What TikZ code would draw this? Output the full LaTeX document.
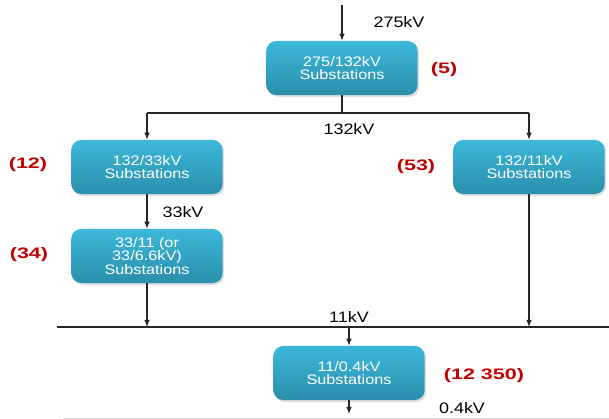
\documentclass[tikz,border=0pt]{standalone}
\usepackage{fontspec}
\setmainfont{Liberation Sans}[FakeStretch=1.18]
\newfontfamily\countfont{Liberation Sans}[FakeStretch=1.42]
\usepackage{xcolor}
\usetikzlibrary{arrows.meta, shadows}

\definecolor{boxtop}{HTML}{3CB8DA}
\definecolor{boxbot}{HTML}{2A8FAA}
\definecolor{numred}{HTML}{C00000}

\tikzset{
  substation/.style={rectangle, rounded corners=7pt, top color=boxtop, bottom color=boxbot,
    minimum width=3.78cm, minimum height=1.35cm, align=center, text=white,
    font=\fontsize{9.8}{9.8}\selectfont, drop shadow={opacity=0.25, shadow xshift=0.04cm, shadow yshift=-0.05cm}},
  count/.style={text=numred, font=\countfont\bfseries\fontsize{10.8}{12}\selectfont},
  volt/.style={font=\fontsize{10.8}{12}\selectfont},
  feed/.style={-{Latex[length=5pt,width=4pt]}, thick, black!85}
}

\begin{document}
\begin{tikzpicture}[x=0.025cm, y=-0.025cm]

\useasboundingbox (0,0) rectangle (609,419);

% substations
\node[substation] (s275) at (342,68) {275/132kV\\Substations};
\node[substation] (s33)  at (147,167) {132/33kV\\Substations};
\node[substation] (s11)  at (529,167) {132/11kV\\Substations};
\node[substation] (s6)   at (147,256) {33/11 (or\\33/6.6kV)\\Substations};
\node[substation] (s04)  at (349,373) {11/0.4kV\\Substations};

% numbers of substations
\node[count] (n5)   at (444,70)  {(5)};
\node[count] (n12)  at (28,165)  {(12)};
\node[count] (n53)  at (416,167) {(53)};
\node[count] (n34)  at (29,255)  {(34)};
\node[count] (n350) at (484,376) {(12 350)};

% voltages
\node[volt] (v275) at (399,22)  {275kV};
\node[volt] (v132) at (349,129) {132kV};
\node[volt] (v33)  at (183,212) {33kV};
\node[volt] (v11)  at (349,317) {11kV};
\node[volt] (v04)  at (462,408) {0.4kV};

\coordinate (in)  at (342,5);
\coordinate (sp)  at (342,113);
\coordinate (spl) at (147,113);
\coordinate (spr) at (529,113);
\coordinate (busl) at (57,327);
\coordinate (busr) at (609,327);
\coordinate (out) at (349,414);

% feeders
\draw[feed] (in) -- (s275.north);
\draw[thick, black!85] (s275.south) -- (sp);
\draw[thick, black!85] (spl) -- (spr);
\draw[feed] (spl) -- (s33.north);
\draw[feed] (spr) -- (s11.north);
\draw[feed] (s33.south) -- (s6.north);
\draw[feed] (s6.south) -- (s6.south |- busl);
\draw[feed] (s11.south) -- (s11.south |- busl);

% 11kV bus
\draw[very thick, black!85] (busl) -- (busr);
\draw[feed] (s04.north |- busl) -- (s04.north);
\draw[feed] (s04.south) -- (out);

\draw[black!15] (63,418) -- (609,418);

\end{tikzpicture}
\end{document}
